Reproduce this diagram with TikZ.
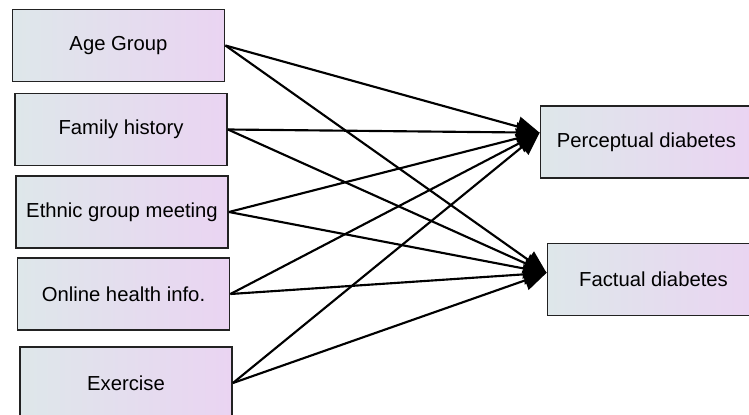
\documentclass[tikz,border=0pt]{standalone}
\usepackage{fontspec}
\setmainfont{Liberation Sans}
\usepackage{xcolor}
\usepackage{tikz}
\usetikzlibrary{positioning, arrows.meta}

\definecolor{boxleft}{HTML}{DEE7EA}
\definecolor{boxright}{HTML}{EAD4F2}
\definecolor{boxline}{HTML}{222222}

\begin{document}
\begin{tikzpicture}[
    x=0.75pt, y=-0.75pt,
    factor/.style={rectangle, draw=boxline, line width=1.4pt, left color=boxleft, right color=boxright,
        minimum width=159pt, minimum height=54pt, align=center, font=\fontsize{15.2}{18}\selectfont},
    outcome/.style={factor},
    link/.style={-{Triangle[length=17pt, width=15pt]}, line width=1.6pt, black}
]

\useasboundingbox (0,0) rectangle (749,414);
\clip (0,0) rectangle (749,414);

% Predictors
\node[factor] (age) at (118.5,45.5) {Age Group};
\node[factor] (fam) at (121,129.5) {Family history};
\node[factor] (eth) at (122,212) {Ethnic group meeting};
\node[factor] (onl) at (123.5,294) {Online health info.};
\node[factor] (exe) at (126,383) {Exercise};

% Outcomes
\node[outcome] (pd) at (646.5,142) {Perceptual diabetes};
\node[outcome] (fd) at (653.5,279.5) {Factual diabetes};

% Arrow ends
\coordinate (pdin) at ([yshift=7pt]pd.west);
\coordinate (fdin) at ([yshift=5pt]fd.west);

% Edges
\foreach \src in {age, fam, eth, onl, exe} {
    \draw[link] (\src.east) -- (pdin);
    \draw[link] (\src.east) -- (fdin);
}

\end{tikzpicture}
\end{document}
